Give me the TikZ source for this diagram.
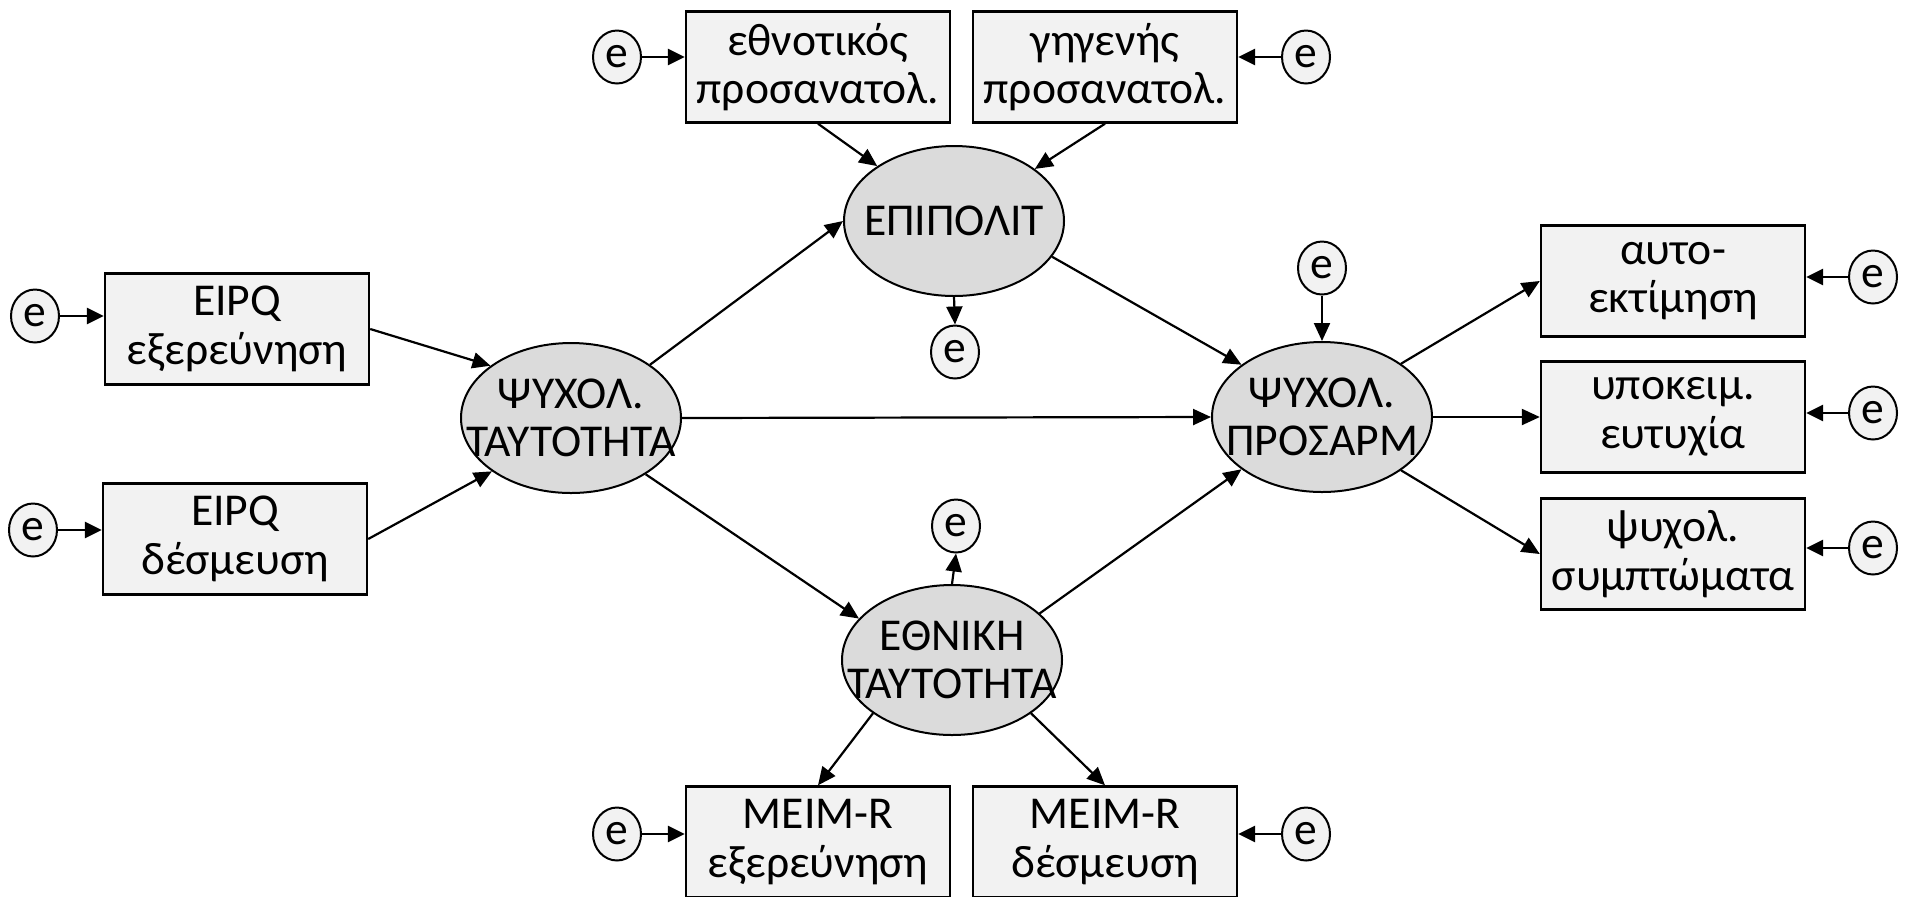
\documentclass[tikz,border=0pt]{standalone}
\usepackage{fontspec}
\setmainfont{Carlito}
\usetikzlibrary{shapes.geometric,arrows.meta}
\begin{document}
\begin{tikzpicture}
[x=0.5pt,y=-0.5pt,every node/.style={font=\fontsize{22.8}{24.3}\selectfont},
 obs/.style={rectangle,draw,line width=1.2pt,fill=black!5,minimum width=132pt,minimum height=55.5pt,inner sep=1pt,align=center},
 lat/.style={ellipse,draw,line width=1pt,fill=black!14,minimum width=110pt,minimum height=75pt,inner sep=0pt},
 txt/.style={align=center,inner sep=0pt},
 err/.style={ellipse,draw,line width=1pt,fill=black!5,minimum width=24pt,minimum height=26.5pt,inner sep=0pt},
 arr/.style={line width=1.1pt,-{Triangle[length=9pt,width=8pt]}},
 earr/.style={line width=1.4pt,-{Triangle[length=8.5pt,width=8pt]}}]
  \useasboundingbox (0,0) rectangle (1905,896);

  % latent variables
  \node[lat,label={[txt]center:ΕΠΙΠΟΛΙΤ}] (epi) at (954,221) {};
  \node[lat,label={[txt]center:ΨΥΧΟΛ.\\ΤΑΥΤΟΤΗΤΑ}] (psyid) at (571,418) {};
  \node[lat,label={[txt]center:ΨΥΧΟΛ.\\ΠΡΟΣΑΡΜ}] (pros) at (1322,417) {};
  \node[lat,label={[txt]center:ΕΘΝΙΚΗ\\ΤΑΥΤΟΤΗΤΑ}] (ethid) at (952,660) {};

  % observed variables
  \node[obs] (eth) at (818,67) {εθνοτικός\\προσανατολ.};
  \node[obs] (ggn) at (1105,67) {γηγενής\\προσανατολ.};
  \node[obs] (eipqA) at (237,329) {EIPQ\\εξερεύνηση};
  \node[obs] (eipqB) at (235,539) {EIPQ\\δέσμευση};
  \node[obs] (meimA) at (818,842) {MEIM-R\\εξερεύνηση};
  \node[obs] (meimB) at (1105,842) {MEIM-R\\δέσμευση};
  \node[obs] (autoe) at (1673,281) {αυτο-\\εκτίμηση};
  \node[obs] (ypok) at (1673,417) {υποκειμ.\\ευτυχία};
  \node[obs] (psyx) at (1673,554) {ψυχολ.\\συμπτώματα};

  % errors
  \node[err] (e1) at (617,57) {e};
  \node[err] (e2) at (1306,57) {e};
  \node[err] (e3) at (35,316) {e};
  \node[err] (e4) at (33,530) {e};
  \node[err] (e5) at (617,834) {e};
  \node[err] (e6) at (1306,834) {e};
  \node[err] (e7) at (1873,277) {e};
  \node[err] (e8) at (1873,413) {e};
  \node[err] (e9) at (1873,548) {e};
  \node[err] (e10) at (955,352) {e};
  \node[err] (e11) at (1322,268) {e};
  \node[err] (e12) at (956,526) {e};

  \foreach \from/\to in {e1/eth,e3/eipqA,e4/eipqB,e5/meimA}
    \draw[earr] (\from) -- (\from -| \to.west);
  \foreach \from/\to in {e2/ggn,e6/meimB,e7/autoe,e8/ypok,e9/psyx}
    \draw[earr] (\from) -- (\from -| \to.east);

  \foreach \from/\to in {eth.south/epi,ggn.south/epi,epi.south/e10.north,
      eipqA.east/psyid.147,eipqB.east/psyid.214,psyid.34/epi.west,
      psyid.east/pros.west,psyid.-37/ethid.156,epi.-20/pros.147,
      ethid.28/pros.213,ethid.north/e12.south,e11.south/pros.north,
      ethid.214/meimA.north,ethid.-34/meimB.north,
      pros.34/autoe.west,pros.east/ypok.west,pros.-34/psyx.west}
    \draw[arr] (\from) -- (\to);

\end{tikzpicture}
\end{document}
